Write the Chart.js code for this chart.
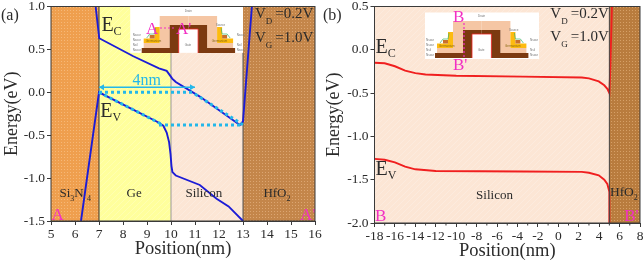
<!DOCTYPE html>
<html>
<head>
<meta charset="utf-8">
<script src="https://cdn.jsdelivr.net/npm/chart.js@4"></script>
<style>
  html, body { margin: 0; padding: 0; background: #fff; }
  canvas { position: absolute; top: 0; filter: blur(0.45px); }
  #chartA { left: 0; }
  #chartB { left: 322px; }
</style>
</head>
<body>
<canvas id="chartA" width="322" height="264"></canvas>
<canvas id="chartB" width="322" height="264"></canvas>
<script>
// panel (a)
const ecPosA = [6.86, 7.01, 8.43, 9.5, 9.82, 9.95, 10.05, 10.2, 11.2, 12.87, 13.0, 13.37];
const ecValA = [1.0, 0.63, 0.42, 0.28, 0.25, 0.2, 0.16, 0.12, -0.05, -0.38, -0.34, 1.0];
const evPosA = [6.25, 7.0, 8.4, 9.4, 9.68, 9.82, 9.92, 9.98, 10.02, 10.06, 10.2, 11.2, 11.9, 12.4, 13.0];
const evValA = [-1.5, 0.0, -0.2, -0.34, -0.39, -0.47, -0.58, -0.72, -0.86, -0.93, -0.97, -1.08, -1.24, -1.33, -1.5];
const dotPosA1 = [7, 11];
const dotValA1 = [0, 0];
const dotPosA2 = [9.5, 13];
const dotValA2 = [-0.38, -0.38];
const dotPosA3 = [7, 9.6];
const dotValA3 = [0, -0.37];
const dotPosA4 = [11, 13];
const dotValA4 = [-0.02, -0.38];
const arrowPosA = [7, 11];
const arrowValA = [0.06, 0.06];
const ticksXA = [5, 6, 7, 8, 9, 10, 11, 12, 13, 14, 15, 16];
const ticksYA = [-1.5, -1.0, -0.5, 0.0, 0.5, 1.0];

// panel (b)
const ecPosB = [-18, -17, -16, -15, -14, -13, -10, -3.5, 2.3, 3, 3.96, 4.5, 4.8, 5, 5.1, 5.25];
const ecValB = [-0.15, -0.155, -0.19, -0.24, -0.27, -0.285, -0.3, -0.31, -0.32, -0.33, -0.365, -0.41, -0.45, -0.5, -0.19, 0.5];
const evPosB = [-18, -17, -16, -15, -14, -12, -3.5, 2.3, 3, 3.96, 4.5, 4.8, 5, 5];
const evValB = [-1.26, -1.27, -1.3, -1.35, -1.38, -1.4, -1.405, -1.41, -1.42, -1.45, -1.5, -1.55, -1.64, -2];
const ticksXB = [-18, -16, -14, -12, -10, -8, -6, -4, -2, 0, 2, 4, 6, 8];
const ticksYB = [-2.0, -1.5, -1.0, -0.5, 0.0, 0.5];

const SERIF = '"Liberation Serif", serif';
const INK = "#2b2b2b";
const PINK = "#f22fc4";
const CYAN = "#23b7ea";

function dotted(base, dot) {
  const c = document.createElement("canvas");
  c.width = 3;
  c.height = 3;
  const g = c.getContext("2d");
  g.fillStyle = base;
  g.fillRect(0, 0, 3, 3);
  g.fillStyle = dot;
  g.fillRect(1, 1, 1, 1);
  return g.createPattern(c, "repeat");
}

// faint white diagonal hatch seen on the light regions
function hatched(base) {
  const c = document.createElement("canvas");
  c.width = 6;
  c.height = 6;
  const g = c.getContext("2d");
  g.fillStyle = base;
  g.fillRect(0, 0, 6, 6);
  g.strokeStyle = "rgba(255,255,255,0.22)";
  g.lineWidth = 1;
  g.beginPath();
  g.moveTo(-1, 7);
  g.lineTo(7, -1);
  g.stroke();
  return g.createPattern(c, "repeat");
}

function fillBand(chart, from, to, fill) {
  const { ctx, chartArea, scales } = chart;
  const l = scales.x.getPixelForValue(from);
  const r = scales.x.getPixelForValue(to);
  ctx.fillStyle = fill;
  ctx.fillRect(l, chartArea.top, r - l, chartArea.height);
}

function label(chart, text, x, y, size, color) {
  const { ctx, scales } = chart;
  ctx.font = size + "px " + SERIF;
  ctx.fillStyle = color || INK;
  ctx.textAlign = "left";
  ctx.textBaseline = "alphabetic";
  ctx.fillText(text, scales.x.getPixelForValue(x), scales.y.getPixelForValue(y));
}

// big letter, smaller letter dropped below it, then optional tail
function subLabel(chart, main, sub, tail, x, y, size, subSize, drop, gap) {
  const { ctx, scales } = chart;
  let px = scales.x.getPixelForValue(x);
  const py = scales.y.getPixelForValue(y);
  ctx.textAlign = "left";
  ctx.textBaseline = "alphabetic";
  ctx.fillStyle = INK;
  ctx.font = size + "px " + SERIF;
  ctx.fillText(main, px, py);
  px += ctx.measureText(main).width;
  ctx.font = subSize + "px " + SERIF;
  ctx.fillText(sub, px, py + drop);
  px += ctx.measureText(sub).width + gap;
  if (tail) {
    ctx.font = size + "px " + SERIF;
    ctx.fillText(tail, px, py);
  }
}

function poly(ctx, pts, fill) {
  ctx.fillStyle = fill;
  ctx.beginPath();
  pts.forEach((p, i) => (i ? ctx.lineTo(p[0], p[1]) : ctx.moveTo(p[0], p[1])));
  ctx.closePath();
  ctx.fill();
}

function tiny(ctx, text, x, y, color) {
  ctx.font = "3px " + '"Liberation Sans", sans-serif';
  ctx.fillStyle = color || "#777";
  ctx.fillText(text, x, y);
}

// the little device sketch, one half then mirrored
function drawDevice(ctx, ox, oy) {
  const mid = 46.7;
  ctx.save();
  ctx.translate(ox, oy);
  for (const side of [0, 1]) {
    ctx.save();
    if (side) {
      ctx.translate(mid * 2, 0);
      ctx.scale(-1, 1);
    }
    poly(ctx, [[2, 33], [2, 28], [18, 28], [18, 1], [mid, 1], [mid, 10], [28, 10], [28, 33]], "#f5c6a4");
    poly(ctx, [[0, 38], [0, 33], [28, 33], [28, 10], [mid, 10], [mid, 14], [37, 14], [37, 38]], "#7c3a10");
    poly(ctx, [[2, 28], [2, 23.5], [13, 23.5], [13, 12], [18, 12], [18, 28]], "#fdbb10");
    poly(ctx, [[8, 23.5], [8, 20], [13, 20], [13, 23.5]], "#c9702c");
    ctx.strokeStyle = "#3cb46a";
    ctx.lineWidth = 0.7;
    ctx.beginPath();
    ctx.moveTo(5, 23);
    ctx.lineTo(8, 19);
    ctx.lineTo(13, 19);
    ctx.lineTo(14, 13);
    ctx.stroke();
    ctx.strokeStyle = "#ee2222";
    ctx.lineWidth = 0.8;
    ctx.beginPath();
    ctx.moveTo(37, 38);
    ctx.lineTo(37, 14);
    ctx.lineTo(mid, 14);
    ctx.stroke();
    ctx.restore();
  }
  ctx.textAlign = "left";
  ctx.textBaseline = "alphabetic";
  tiny(ctx, "Drain", 43, -3);
  tiny(ctx, "Germanium", 4, 27, "#8a6a10");
  tiny(ctx, "Germanium", 70, 27, "#8a6a10");
  tiny(ctx, "Gate", 43, 31);
  tiny(ctx, "Source", 74, 11);
  tiny(ctx, "Nsour", -9, 21);
  tiny(ctx, "Nsour", -9, 26);
  tiny(ctx, "Nsil", -9, 31);
  tiny(ctx, "Nsour", -9, 36);
  tiny(ctx, "Nsour", 95, 21);
  tiny(ctx, "Nsil", 95, 31);
  tiny(ctx, "Nsour", 95, 36);
  ctx.restore();
}

function frameAndMinor(chart, minorXs) {
  const { ctx, chartArea, scales } = chart;
  ctx.strokeStyle = "#3a3a3a";
  ctx.lineWidth = 1;
  ctx.strokeRect(chartArea.left, chartArea.top, chartArea.width, chartArea.height);
  ctx.beginPath();
  minorXs.forEach((v) => {
    const px = scales.x.getPixelForValue(v);
    ctx.moveTo(px, chartArea.bottom);
    ctx.lineTo(px, chartArea.bottom + 2.5);
  });
  ctx.stroke();
}

const panelA = {
  id: "panelA",
  beforeDatasetsDraw(chart) {
    const { ctx, scales } = chart;
    fillBand(chart, 5, 7, dotted("#ef9f4e", "#f6b877"));
    fillBand(chart, 7, 10, hatched("#ffff9c"));
    fillBand(chart, 10, 13, hatched("#fce6d5"));
    fillBand(chart, 13, 16, dotted("#c4864a", "#dca672"));
    const wl = scales.x.getPixelForValue(8.3);
    const wr = scales.x.getPixelForValue(13);
    const wt = scales.y.getPixelForValue(1);
    const wb = scales.y.getPixelForValue(0.46);
    ctx.fillStyle = "#fff";
    ctx.fillRect(wl, wt, wr - wl, wb - wt);
    ctx.lineWidth = 1;
    for (const v of [7, 10, 13]) {
      const px = scales.x.getPixelForValue(v);
      ctx.strokeStyle = v === 7 ? "#333" : v === 10 ? "#999" : "#555";
      ctx.beginPath();
      ctx.moveTo(px, v === 7 ? wt : wb);
      ctx.lineTo(px, scales.y.getPixelForValue(-1.5));
      ctx.stroke();
    }
    drawDevice(ctx, 141.7, 15);
  },
  afterDatasetsDraw(chart) {
    const { ctx, scales } = chart;
    const ay = scales.y.getPixelForValue(arrowValA[0]);
    const x0 = scales.x.getPixelForValue(arrowPosA[0]);
    const x1 = scales.x.getPixelForValue(arrowPosA[1]);
    poly(ctx, [[x0, ay], [x0 + 5, ay - 3], [x0 + 5, ay + 3]], CYAN);
    poly(ctx, [[x1, ay], [x1 - 5, ay - 3], [x1 - 5, ay + 3]], CYAN);

    subLabel(chart, "E", "C", "", 7.1, 0.71, 20, 12, 4, 0);
    subLabel(chart, "E", "V", "", 7.05, -0.29, 20, 12, 4, 0);
    subLabel(chart, "V", "D", "=0.2V", 13.5, 0.865, 15, 9, 6, 3);
    subLabel(chart, "V", "G", "=1.0V", 13.5, 0.59, 15, 9, 6, 3);
    label(chart, "4nm", 8.4, 0.085, 16, CYAN);

    subLabel(chart, "Si", "3", "N", 5.35, -1.22, 13, 8, 4, 0);
    label(chart, "4", 6.5, -1.27, 8);
    label(chart, "Ge", 8.15, -1.22, 13);
    label(chart, "Silicon", 10.6, -1.22, 13);
    subLabel(chart, "HfO", "2", "", 13.85, -1.22, 13, 8, 4, 0);
    label(chart, "A", 5.02, -1.49, 17, PINK);
    label(chart, "A'", 15.38, -1.49, 17, PINK);

    ctx.font = "17px " + SERIF;
    ctx.fillStyle = PINK;
    ctx.fillText("A", 146, 34);
    ctx.fillText("A'", 176, 34);
    ctx.strokeStyle = PINK;
    ctx.lineWidth = 1.2;
    ctx.setLineDash([2, 2]);
    ctx.beginPath();
    ctx.moveTo(160, 28);
    ctx.lineTo(176, 28);
    ctx.stroke();
    ctx.setLineDash([]);

    frameAndMinor(chart, []);
    ctx.font = "16px " + SERIF;
    ctx.fillStyle = INK;
    ctx.fillText("(a)", 1, 20);
  },
};

const panelB = {
  id: "panelB",
  beforeDatasetsDraw(chart) {
    const { ctx } = chart;
    fillBand(chart, -18, 5, hatched("#fce6d5"));
    fillBand(chart, 5, 8, dotted("#b97c3e", "#d6a067"));
    ctx.fillStyle = "#fff";
    ctx.fillRect(103, 12.5, 114, 46.5);
    drawDevice(ctx, 113, 20);
  },
  afterDatasetsDraw(chart) {
    const { ctx, scales } = chart;
    const line5 = scales.x.getPixelForValue(5);
    ctx.strokeStyle = "#444";
    ctx.lineWidth = 1;
    ctx.beginPath();
    ctx.moveTo(line5, chart.chartArea.top);
    ctx.lineTo(line5, chart.chartArea.bottom);
    ctx.stroke();

    subLabel(chart, "E", "C", "", -17.9, -0.04, 20, 12, 4, 0);
    subLabel(chart, "E", "V", "", -17.9, -1.44, 20, 12, 4, 0);
    subLabel(chart, "V", "D", "=0.2V", -0.78, 0.365, 15, 9, 6, 3);
    subLabel(chart, "V", "G", "=1.0V", -0.78, 0.096, 15, 9, 6, 3);
    label(chart, "Silicon", -8.05, -1.72, 13);
    subLabel(chart, "HfO", "2", "", 5.05, -1.69, 13.5, 8, 4, 0);
    label(chart, "B", -17.95, -1.98, 17, PINK);
    label(chart, "B'", 6.45, -1.98, 17, PINK);

    ctx.font = "17px " + SERIF;
    ctx.fillStyle = PINK;
    ctx.fillText("B", 131, 22);
    ctx.fillText("B'", 131, 70);
    ctx.strokeStyle = PINK;
    ctx.lineWidth = 1.2;
    ctx.setLineDash([2, 2]);
    ctx.beginPath();
    ctx.moveTo(142, 23);
    ctx.lineTo(142, 57);
    ctx.stroke();
    ctx.setLineDash([]);

    frameAndMinor(chart, ticksXB.slice(0, -1).map((v) => v + 1));
    ctx.font = "16px " + SERIF;
    ctx.fillStyle = INK;
    ctx.fillText("(b)", 1, 20);
  },
};

function toPoints(xs, ys) {
  return xs.map((x, i) => ({ x: x, y: ys[i] }));
}

function curve(xs, ys, color) {
  return { data: toPoints(xs, ys), borderColor: color, borderWidth: 1.9, pointRadius: 0, showLine: true };
}

function dots(xs, ys) {
  return { data: toPoints(xs, ys), borderColor: CYAN, borderWidth: 3, borderDash: [3, 3], pointRadius: 0, showLine: true };
}

function makeChart(id, datasets, opts) {
  return new Chart(document.getElementById(id), {
    type: "scatter",
    data: { datasets: datasets },
    plugins: [opts.plugin],
    options: {
      responsive: false,
      animation: false,
      layout: { padding: opts.padding },
      plugins: { legend: { display: false }, tooltip: { enabled: false } },
      scales: {
        x: {
          type: "linear",
          min: opts.xMin,
          max: opts.xMax,
          afterBuildTicks: (s) => { s.ticks = opts.ticksX.map((v) => ({ value: v })); },
          afterFit: (s) => { s.height = 41; s.paddingLeft = 0; s.paddingRight = 0; },
          ticks: { color: INK, font: { family: SERIF, size: 13.5 }, padding: 1, maxRotation: 0, autoSkip: false, callback: (v) => String(v) },
          grid: { drawOnChartArea: false, tickLength: 4, color: "#3a3a3a" },
          border: { color: "#3a3a3a" },
          title: { display: true, text: "Position(nm)", color: INK, font: { family: SERIF, size: 18.5 }, padding: { top: 0, bottom: 2 } },
        },
        y: {
          type: "linear",
          min: opts.yMin,
          max: opts.yMax,
          afterBuildTicks: (s) => { s.ticks = opts.ticksY.map((v) => ({ value: v })); },
          afterFit: (s) => { s.width = opts.yWidth; s.paddingTop = 0; s.paddingBottom = 0; },
          ticks: { color: INK, font: { family: SERIF, size: 13.5 }, padding: 2, callback: (v) => v.toFixed(1) },
          grid: { drawOnChartArea: false, tickLength: 4, color: "#3a3a3a" },
          border: { color: "#3a3a3a" },
          title: { display: true, text: "Energy(eV)", color: INK, font: { family: SERIF, size: 18 }, padding: { top: 1, bottom: 0 } },
        },
      },
    },
  });
}

makeChart("chartA", [
  dots(dotPosA1, dotValA1),
  dots(dotPosA2, dotValA2),
  dots(dotPosA3, dotValA3),
  dots(dotPosA4, dotValA4),
  { data: toPoints(arrowPosA, arrowValA), borderColor: CYAN, borderWidth: 1.5, pointRadius: 0, showLine: true },
  curve(ecPosA, ecValA, "#1c1cd6"),
  curve(evPosA, evValA, "#1c1cd6"),
], { plugin: panelA, padding: { left: 0, top: 6.5, right: 7, bottom: 2 }, xMin: 5, xMax: 16, yMin: -1.5, yMax: 1, ticksX: ticksXA, ticksY: ticksYA, yWidth: 51 });

makeChart("chartB", [
  curve(ecPosB, ecValB, "#f01f1f"),
  curve(evPosB, evValB, "#f01f1f"),
], { plugin: panelB, padding: { left: 0, top: 6.5, right: 4, bottom: 0 }, xMin: -18, xMax: 8, yMin: -2, yMax: 0.5, ticksX: ticksXB, ticksY: ticksYB, yWidth: 52.5 });
</script>
</body>
</html>
